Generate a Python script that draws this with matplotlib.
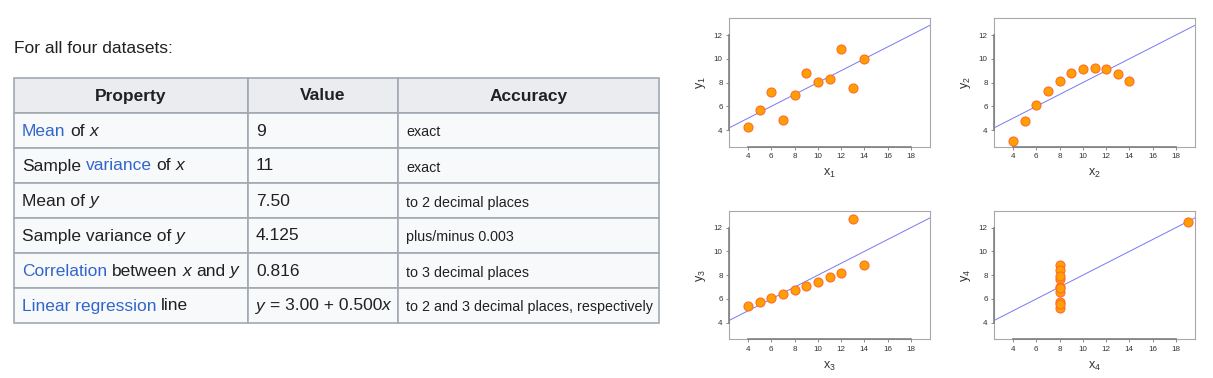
import matplotlib
matplotlib.use('Agg')
import matplotlib.pyplot as plt
from matplotlib.patches import Rectangle
from matplotlib.font_manager import FontProperties, findfont, get_font

plt.rcParams['font.family'] = ['Liberation Sans', 'DejaVu Sans']
plt.rcParams['mathtext.fontset'] = 'custom'
plt.rcParams['mathtext.rm'] = 'Liberation Sans'
plt.rcParams['mathtext.it'] = 'Liberation Sans:italic'

# Anscombe's quartet
x123 = [10, 8, 13, 9, 11, 14, 6, 4, 12, 7, 5]
y1 = [8.04, 6.95, 7.58, 8.81, 8.33, 9.96, 7.24, 4.26, 10.84, 4.82, 5.68]
y2 = [9.14, 8.14, 8.74, 8.77, 9.26, 8.10, 6.13, 3.10, 9.13, 7.26, 4.74]
y3 = [7.46, 6.77, 12.74, 7.11, 7.81, 8.84, 6.08, 5.39, 8.15, 6.42, 5.73]
x4 = [8, 8, 8, 8, 8, 8, 8, 19, 8, 8, 8]
y4 = [6.58, 5.76, 7.71, 8.84, 8.47, 7.04, 5.25, 12.50, 5.56, 7.91, 6.89]
xticks = [4, 6, 8, 10, 12, 14, 16, 18]
yticks = [4, 6, 8, 10, 12]
intercept = 3.0
slope = 0.5

# table text: (text, kind) kind = 'n' normal, 'l' link, 'i' italic
headers = ['Property', 'Value', 'Accuracy']
prop_col = [
    [('Mean', 'l'), (' of ', 'n'), ('x', 'i')],
    [('Sample ', 'n'), ('variance', 'l'), (' of ', 'n'), ('x', 'i')],
    [('Mean of ', 'n'), ('y', 'i')],
    [('Sample variance of ', 'n'), ('y', 'i')],
    [('Correlation', 'l'), (' between ', 'n'), ('x', 'i'), (' and ', 'n'), ('y', 'i')],
    [('Linear regression', 'l'), (' line', 'n')],
]
value_col = [
    [('9', 'n')], [('11', 'n')], [('7.50', 'n')], [('4.125', 'n')], [('0.816', 'n')],
    [('y', 'i'), (' = 3.00 + 0.500', 'n'), ('x', 'i')],
]
acc_col = ['exact', 'exact', 'to 2 decimal places', 'plus/minus 0.003',
           'to 3 decimal places', 'to 2 and 3 decimal places, respectively']

W, H = 1213, 378
fig = plt.figure(figsize=(W / 100, H / 100), dpi=100)
fig.patch.set_facecolor('white')

# overlay axes in pixel units for the table
tab = fig.add_axes([0, 0, 1, 1])
tab.set_xlim(0, W)
tab.set_ylim(H, 0)
tab.axis('off')

TXT = '#202122'
LINK = '#3366cc'
BORDER = '#a2a9b1'


def advance(s, size, italic):
    # summed glyph advances in pixels
    f = get_font(findfont(FontProperties(family='Liberation Sans',
                                         style='italic' if italic else 'normal')))
    f.set_size(size, 100)
    return sum(f.load_char(ord(c)).linearHoriAdvance for c in s) / 65536


def rich(x, y, parts, size):
    for s, kind in parts:
        it = kind == 'i'
        lead = len(s) - len(s.lstrip(' '))
        tab.text(x + advance(s[:lead], size, it), y, s.strip(), fontsize=size,
                 va='baseline', ha='left', color=LINK if kind == 'l' else TXT,
                 style='italic' if it else 'normal')
        x += advance(s, size, it)


tab.text(14, 53, 'For all four datasets:', fontsize=12.5, color=TXT, va='baseline')

col_x = [14, 248, 398, 659]
row_y = [78, 113, 148, 183, 218, 253, 288, 323]
for r in range(len(row_y) - 1):
    for c in range(3):
        tab.add_patch(Rectangle((col_x[c], row_y[r]), col_x[c + 1] - col_x[c],
                                row_y[r + 1] - row_y[r],
                                facecolor='#eaecf0' if r == 0 else '#f8f9fa',
                                edgecolor=BORDER, lw=1.2))

for c, h in enumerate(headers):
    tab.text((col_x[c] + col_x[c + 1]) / 2, (row_y[0] + row_y[1]) / 2 + 5, h,
             fontsize=12.5, fontweight='bold', color=TXT, ha='center', va='baseline')

for r in range(6):
    base = (row_y[r + 1] + row_y[r + 2]) / 2 + 5
    rich(col_x[0] + 8, base, prop_col[r], 12.5)
    rich(col_x[1] + 8, base, value_col[r], 12.5)
    tab.text(col_x[2] + 8, base + 1, acc_col[r], fontsize=10.3, color=TXT, va='baseline')

# scatter panels
datasets = [(x123, y1), (x123, y2), (x123, y3), (x4, y4)]
lefts = [729, 994, 729, 994]
tops = [18.4, 18.4, 211, 211]
pw, ph = 201, 128.3

for i, (xs, ys) in enumerate(datasets):
    ax = fig.add_axes([lefts[i] / W, 1 - (tops[i] + ph) / H, pw / W, ph / H])
    ax.set_xlim(2.36, 19.64)
    ax.set_ylim(2.6, 13.4)
    ax.axline((0, intercept), slope=slope, color='#7878f0', lw=0.7, zorder=2)
    ax.scatter(xs, ys, s=42, c='#ffa000', edgecolors='#ff6a30', linewidths=0.8, zorder=3)
    ax.set_xticks(xticks)
    ax.set_yticks(yticks)
    ax.tick_params(length=2.5, width=0.6, color='#777777', labelsize=5.8,
                   labelcolor='#333333', pad=2)
    for s in ax.spines.values():
        s.set_color('#a8a8a8')
        s.set_linewidth(0.8)
    ax.plot([xticks[0], xticks[-1]], [0, 0], transform=ax.get_xaxis_transform(),
            color='#808080', lw=1.2, clip_on=False, zorder=4)
    ax.plot([0, 0], [yticks[0], yticks[-1]], transform=ax.get_yaxis_transform(),
            color='#808080', lw=1.2, clip_on=False, zorder=4)
    n = i + 1
    ax.set_xlabel('x$_{%d}$' % n, fontsize=9, color='#333333', labelpad=5)
    ax.set_ylabel('y$_{%d}$' % n, fontsize=9, color='#333333', labelpad=4)

fig.savefig('out.png', dpi=100, facecolor='white')
